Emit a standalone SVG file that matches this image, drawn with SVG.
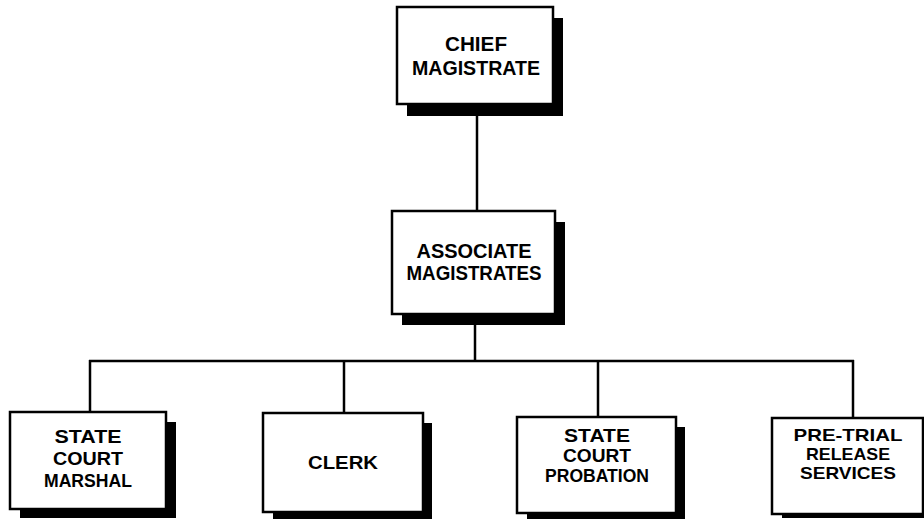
<svg xmlns="http://www.w3.org/2000/svg" width="924" height="522" viewBox="0 0 924 522">
  <style>
    .box { fill: #fff; stroke: #000; stroke-width: 2.5; }
    .shadow { fill: #000; }
    .link { fill: none; stroke: #000; stroke-width: 2.5; }
    text { font-family: "Liberation Sans", Arial, sans-serif; font-weight: bold; font-size: 18px; fill: #000; text-anchor: middle; }
    .big { font-size: 20px; }
    .small { font-size: 17px; }
  </style>
  <rect width="924" height="522" fill="#fff"/>

  <!-- connectors -->
  <g id="connectors">
    <line class="link" x1="477" y1="110" x2="477" y2="212"/>
    <line class="link" x1="475" y1="320" x2="475" y2="361"/>
    <line class="link" x1="89" y1="361" x2="854" y2="361"/>
    <line class="link" x1="90" y1="360" x2="90" y2="413"/>
    <line class="link" x1="344" y1="360" x2="344" y2="414"/>
    <line class="link" x1="598" y1="360" x2="598" y2="418"/>
    <line class="link" x1="853" y1="360" x2="853" y2="419"/>
  </g>

  <g id="chief-magistrate">
    <rect class="shadow" x="407" y="18" width="156" height="98"/>
    <rect class="box" x="397" y="7" width="156" height="97"/>
    <text class="big" x="476" y="51" textLength="62" lengthAdjust="spacingAndGlyphs">CHIEF</text>
    <text class="big" x="476" y="75" textLength="128" lengthAdjust="spacingAndGlyphs">MAGISTRATE</text>
  </g>

  <g id="associate-magistrates">
    <rect class="shadow" x="402" y="222" width="163" height="103"/>
    <rect class="box" x="392" y="211" width="163" height="103"/>
    <text class="big" x="474" y="258" textLength="115" lengthAdjust="spacingAndGlyphs">ASSOCIATE</text>
    <text class="big" x="474" y="280" textLength="135" lengthAdjust="spacingAndGlyphs">MAGISTRATES</text>
  </g>

  <g id="state-court-marshal">
    <rect class="shadow" x="20" y="422" width="156" height="96"/>
    <rect class="box" x="10" y="412" width="156" height="97"/>
    <text x="88" y="443" textLength="67" lengthAdjust="spacingAndGlyphs">STATE</text>
    <text x="88" y="465" textLength="70" lengthAdjust="spacingAndGlyphs">COURT</text>
    <text x="88" y="487" textLength="88" lengthAdjust="spacingAndGlyphs">MARSHAL</text>
  </g>

  <g id="clerk">
    <rect class="shadow" x="273" y="423" width="159" height="96"/>
    <rect class="box" x="263" y="413" width="160" height="99"/>
    <text x="343" y="469" textLength="70" lengthAdjust="spacingAndGlyphs">CLERK</text>
  </g>

  <g id="state-court-probation">
    <rect class="shadow" x="527" y="427" width="158" height="92"/>
    <rect class="box" x="517" y="417" width="159" height="96"/>
    <text x="597" y="442" textLength="66" lengthAdjust="spacingAndGlyphs">STATE</text>
    <text x="597" y="462" textLength="68" lengthAdjust="spacingAndGlyphs">COURT</text>
    <text x="597" y="482" textLength="104" lengthAdjust="spacingAndGlyphs">PROBATION</text>
  </g>

  <g id="pre-trial-release-services">
    <rect class="shadow" x="782" y="428" width="160" height="90"/>
    <rect class="box" x="772" y="418" width="151" height="96"/>
    <text class="small" x="848" y="441" textLength="109" lengthAdjust="spacingAndGlyphs">PRE-TRIAL</text>
    <text class="small" x="848" y="460" textLength="84" lengthAdjust="spacingAndGlyphs">RELEASE</text>
    <text class="small" x="848" y="479" textLength="96" lengthAdjust="spacingAndGlyphs">SERVICES</text>
  </g>
</svg>
